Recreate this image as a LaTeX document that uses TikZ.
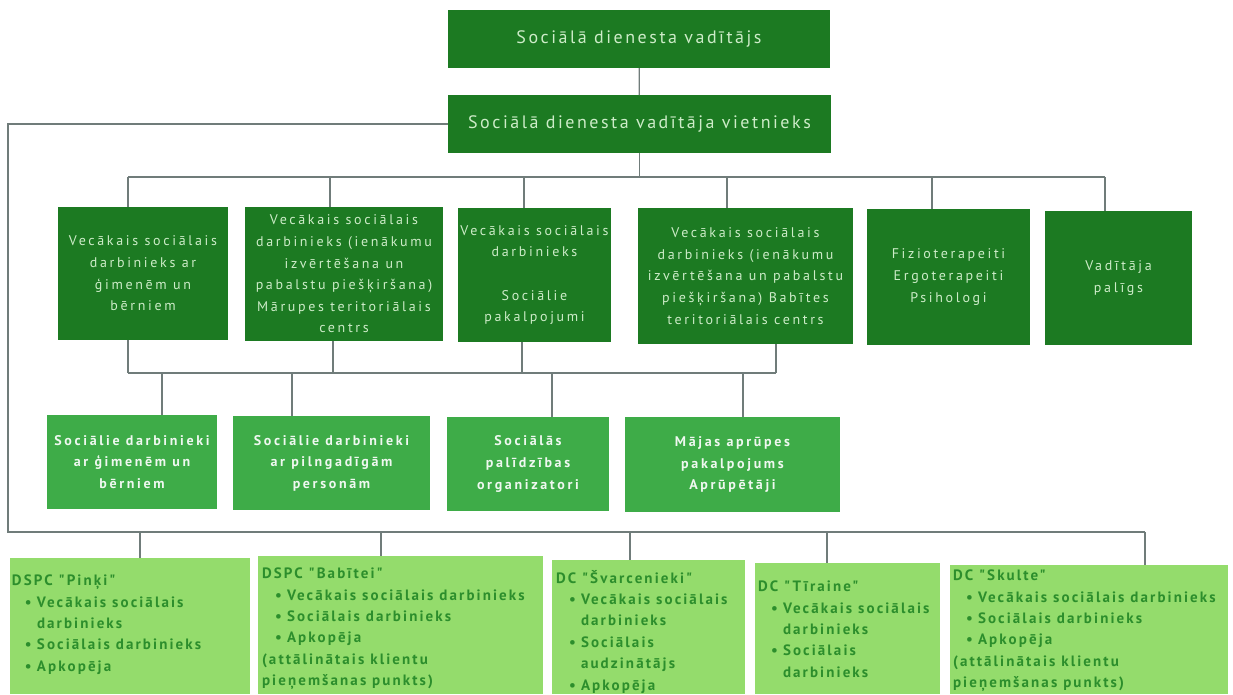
\documentclass[tikz,border=0pt]{standalone}
\usepackage{fontspec}
\setmainfont{PT Sans}
\newfontfamily\headfont[LetterSpace=14]{PT Sans}
\newfontfamily\boxfont[LetterSpace=19]{PT Sans}
\newfontfamily\unitfont[LetterSpace=14]{PT Sans}
\definecolor{dark}{RGB}{28,122,34}
\definecolor{mid}{RGB}{62,172,72}
\definecolor{pale}{RGB}{148,220,108}
\definecolor{paletext}{RGB}{44,142,44}
\definecolor{ink}{RGB}{205,236,200}
\definecolor{wire}{RGB}{112,124,122}
\newcommand{\itm}[1]{\hspace*{13pt}\makebox[12pt][l]{\textbullet}#1}
\newcommand{\cnt}[1]{\hspace*{25pt}#1}

\begin{document}
\begin{tikzpicture}[x=1pt,y=-1pt]
\useasboundingbox (0,0) rectangle (1233,694);
\begin{scope}[inner sep=0pt,outer sep=0pt,
  topbox/.style={fill=dark,text=ink,font=\headfont\fontsize{18}{21}\selectfont},
  midbox/.style={fill=dark,text=ink,align=center,font=\boxfont\fontsize{14}{21.6}\selectfont},
  lowbox/.style={fill=mid,text=white!92!mid,align=center,font=\boxfont\bfseries\fontsize{14}{21.6}\selectfont},
  unitbox/.style={fill=pale},
  unittext/.style={anchor=north west,text=paletext,align=left,font=\unitfont\bfseries\fontsize{15}{21.4}\selectfont}]
\node[topbox,minimum width=382,minimum height=58] (head) at (639,39) {Sociālā dienesta vadītājs};
\node[topbox,minimum width=383,minimum height=58] (dep) at (639.5,124) {Sociālā dienesta vadītāja vietnieks};
\node[midbox,minimum width=170,minimum height=133] (m1) at (143,273.5) {Vecākais sociālais\\darbinieks ar\\ģimenēm un\\bērniem};
\node[midbox,minimum width=198,minimum height=134] (m2) at (344,274) {Vecākais sociālais\\darbinieks (ienākumu\\izvērtēšana un\\pabalstu piešķiršana)\\Mārupes teritoriālais\\centrs};
\node[midbox,minimum width=153,minimum height=134] (m3) at (534.5,275) {Vecākais sociālais\\darbinieks\\[21.6pt]Sociālie\\pakalpojumi};
\node[midbox,minimum width=215,minimum height=136] (m4) at (745.5,276) {Vecākais sociālais\\darbinieks (ienākumu\\izvērtēšana un pabalstu\\piešķiršana) Babītes\\teritoriālais centrs};
\node[midbox,minimum width=163,minimum height=136] (m5) at (948.5,277) {Fizioterapeiti\\Ergoterapeiti\\Psihologi};
\node[midbox,minimum width=147,minimum height=134] (m6) at (1118.5,278) {Vadītāja\\palīgs};
\node[lowbox,minimum width=170,minimum height=94] (l1) at (132,462) {Sociālie darbinieki\\ar ģimenēm un\\bērniem};
\node[lowbox,minimum width=197,minimum height=94] (l2) at (331.5,463) {Sociālie darbinieki\\ar pilngadīgām\\personām};
\node[lowbox,minimum width=162,minimum height=94] (l3) at (528,464) {Sociālās\\palīdzības\\organizatori};
\node[lowbox,minimum width=215,minimum height=95] (l4) at (732.5,464.5) {Mājas aprūpes\\pakalpojums\\Aprūpētāji};
\node[unitbox,minimum width=240,minimum height=136] (u1) at (130,626) {};
\node[unitbox,minimum width=285,minimum height=138] (u2) at (400.5,625) {};
\node[unitbox,minimum width=193,minimum height=134] (u3) at (648.5,627) {};
\node[unitbox,minimum width=185,minimum height=131] (u4) at (847.5,628.5) {};
\node[unitbox,minimum width=278,minimum height=129] (u5) at (1089,629.5) {};
\node[unittext] (u1t) at (12,575) {DSPC "Pinķi"\\\itm{Vecākais sociālais}\\\cnt{darbinieks}\\\itm{Sociālais darbinieks}\\\itm{Apkopēja}};
\node[unittext] (u2t) at (262,568) {DSPC "Babītei"\\\itm{Vecākais sociālais darbinieks}\\\itm{Sociālais darbinieks}\\\itm{Apkopēja}\\(attālinātais klientu\\pieņemšanas punkts)};
\node[unittext] (u3t) at (556,570) {DC "Švarcenieki"\\\itm{Vecākais sociālais}\\\cnt{darbinieks}\\\itm{Sociālais}\\\cnt{audzinātājs}\\\itm{Apkopēja}};
\node[unittext] (u4t) at (758,581) {DC "Tīraine"\\\itm{Vecākais sociālais}\\\cnt{darbinieks}\\\itm{Sociālais}\\\cnt{darbinieks}};
\node[unittext] (u5t) at (953,570) {DC "Skulte"\\\itm{Vecākais sociālais darbinieks}\\\itm{Sociālais darbinieks}\\\itm{Apkopēja}\\(attālinātais klientu\\pieņemšanas punkts)};
\end{scope}
\begin{scope}[wire,line width=1.3pt]
\coordinate (a1) at (128,177); \coordinate (a2) at (330,177); \coordinate (a3) at (524,177);
\coordinate (a4) at (727,177); \coordinate (a5) at (932,177); \coordinate (a6) at (1105,177);
\coordinate (b1) at (128,373); \coordinate (b2) at (333,373); \coordinate (b3) at (522,373); \coordinate (b4) at (776,373);
\coordinate (c1) at (162,373); \coordinate (c2) at (292,373); \coordinate (c3) at (552,373); \coordinate (c4) at (743,373);
\coordinate (d0) at (8,532); \coordinate (d1) at (140,532); \coordinate (d2) at (381,532);
\coordinate (d3) at (630,532); \coordinate (d4) at (827,532); \coordinate (d5) at (1145,532);
\draw (head)--(dep);
\draw (dep.south)--(dep.south |- a1); \draw (a1)--(a6);
\draw (a1)--(a1 |- m1.north); \draw (a2)--(a2 |- m2.north); \draw (a3)--(a3 |- m3.north);
\draw (a4)--(a4 |- m4.north); \draw (a5)--(a5 |- m5.north); \draw (a6)--(a6 |- m6.north);
\draw (b1)--(b4);
\draw (b1)--(b1 |- m1.south); \draw (b2)--(b2 |- m2.south);
\draw (b3)--(b3 |- m3.south); \draw (b4)--(b4 |- m4.south);
\draw (c1)--(c1 |- l1.north); \draw (c2)--(c2 |- l2.north);
\draw (c3)--(c3 |- l3.north); \draw (c4)--(c4 |- l4.north);
\draw (dep.west) -| (d0) -- (d5);
\draw (d1)--(d1 |- u1.north); \draw (d2)--(d2 |- u2.north); \draw (d3)--(d3 |- u3.north);
\draw (d4)--(d4 |- u4.north); \draw (d5)--(d5 |- u5.north);
\end{scope}
\end{tikzpicture}
\end{document}
